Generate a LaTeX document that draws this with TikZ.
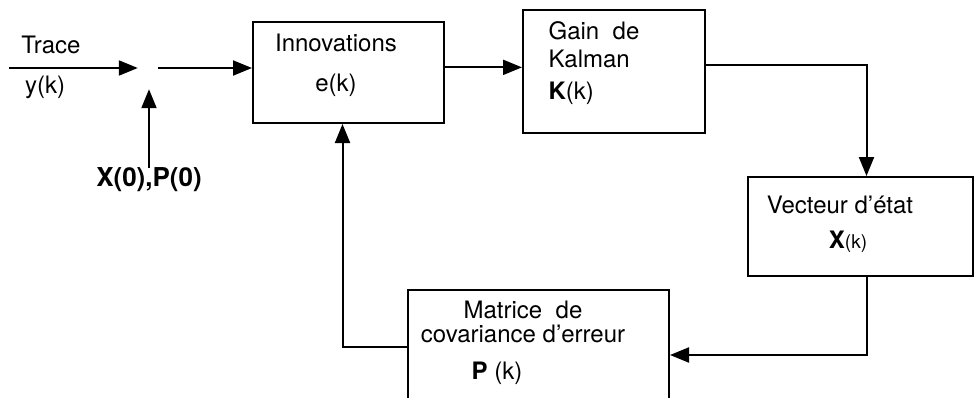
\documentclass[tikz,border=0pt]{standalone}
\usepackage{fontspec}
\setmainfont{TeX Gyre Heros}
\usetikzlibrary{arrows.meta,calc}

\begin{document}
\begin{tikzpicture}[x=1pt,y=-1pt,>={Triangle[length=19pt,width=15pt]},
        bloc/.style={draw,line width=2pt,inner sep=0pt},
        txt/.style={font=\fontsize{24}{28}\selectfont,inner sep=0pt},
        fleche/.style={->,line width=2pt}]
    \clip (0,0) rectangle (975,397);

      % les blocs
      \node[bloc,minimum width=191,minimum height=101] (innov) at (348.5,72.5) {};
      \node[bloc,minimum width=182,minimum height=123] (gain)  at (614,71.5)   {};
      \node[bloc,minimum width=225,minimum height=99]  (etat)  at (860.5,226.5) {};
      \node[bloc,minimum width=261,minimum height=130] (covar) at (538.5,355)  {};

      \node[txt,align=center] (innov-t) at (336,65)  {Innovations\\[12pt]e(k)};
      \node[txt,align=left]   (gain-t)  at (594,63)  {Gain\ \ de\\Kalman\\[4pt]\textbf{K}(k)};
      \node[txt,align=center] (etat-t)  at (840,224) {Vecteur d'état\\[7pt]\hspace*{16pt}\textbf{X}{\fontsize{19}{22}\selectfont(k)}};
      \node[txt,align=center,font=\fontsize{24}{24}\selectfont] (covar-t) at (523,343)
            {Matrice\ \ de\\covariance d'erreur\\[13pt]\textbf{P}\ (k)\hspace*{52pt}};

      % entree
      \coordinate (trace) at (9,68);
      \node[minimum width=20,minimum height=42,inner sep=0pt] (jonc) at (148,68) {};
      \node[txt] (trace-t) at (51,45) {Trace};
      \node[txt] (y-t)     at (45,87) {y(k)};
      \node[txt,font=\fontsize{26}{30}\selectfont\bfseries] (init) at (149,180) {X(0),P(0)};

      % liaisons
      \coordinate (innov-out) at ($(innov.north east)!0.45!(innov.south east)$);
      \coordinate (gain-out)  at ($(gain.north east)!0.45!(gain.south east)$);
      \draw[fleche] (trace) -- (jonc);
      \draw[fleche] (init.north) -- (init.north |- jonc.south);
      \draw[fleche] (jonc.east) -- (jonc.east -| innov.west);
      \draw[fleche] (innov-out) -- (innov-out -| gain.west);
      \draw[fleche] (gain-out) -| ([xshift=6]etat.north);
      \draw[fleche] ([xshift=6]etat.south) |- (covar.east);
      \draw[fleche] ([yshift=8]covar.west) -| ([xshift=-6]innov.south);
    \end{tikzpicture}
\end{document}
